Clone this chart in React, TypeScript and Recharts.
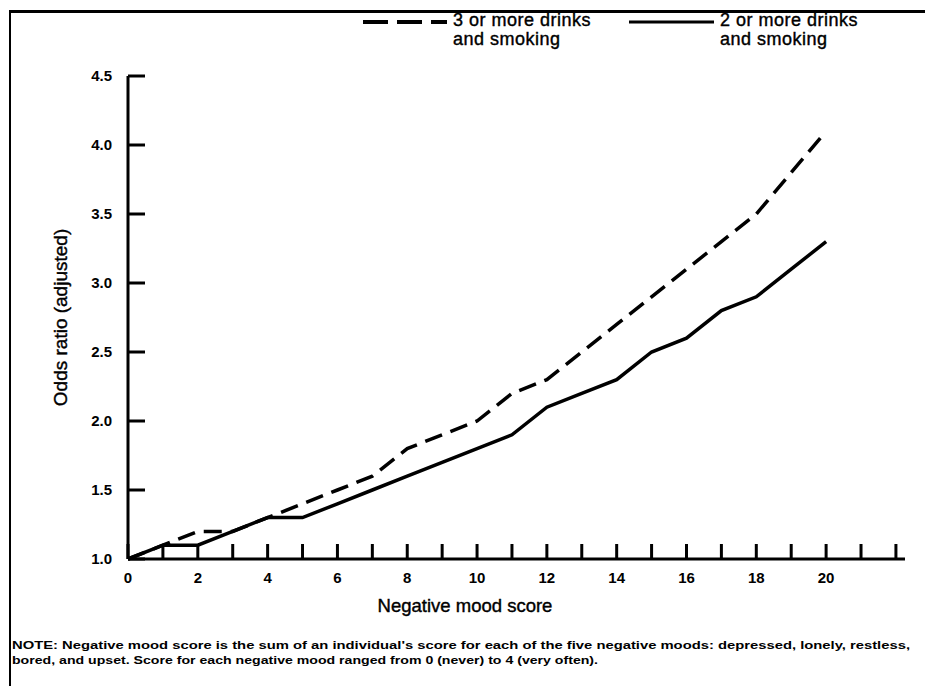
import React from 'react';
import { LineChart, Line, XAxis, YAxis, Label } from 'recharts';

// negative mood score (x) and adjusted odds ratios
const moodScore = [0, 1, 2, 3, 4, 5, 6, 7, 8, 9, 10, 11, 12, 13, 14, 15, 16, 17, 18, 19, 20];
const threeOrMoreDrinks = [1.0, 1.1, 1.2, 1.2, 1.3, 1.4, 1.5, 1.6, 1.8, 1.9, 2.0, 2.2, 2.3, 2.5, 2.7, 2.9, 3.1, 3.3, 3.5, 3.8, 4.1];
const twoOrMoreDrinks = [1.0, 1.1, 1.1, 1.2, 1.3, 1.3, 1.4, 1.5, 1.6, 1.7, 1.8, 1.9, 2.1, 2.2, 2.3, 2.5, 2.6, 2.8, 2.9, 3.1, 3.3];

const xTicks = [0, 1, 2, 3, 4, 5, 6, 7, 8, 9, 10, 11, 12, 13, 14, 15, 16, 17, 18, 19, 20, 21, 22];
const yTicks = [1.0, 1.5, 2.0, 2.5, 3.0, 3.5, 4.0, 4.5];

const seriesNames = ['3 or more drinks', '2 or more drinks'];

const data = moodScore.map((m, i) => ({
  mood: m,
  three: threeOrMoreDrinks[i],
  two: twoOrMoreDrinks[i],
}));

const FONT = '"Liberation Sans", Arial, Helvetica, sans-serif';
const DASH = '18 9';

// ticks point inward, labels only on even scores up to 20
const XTick = (props: any) => {
  const { x, y, payload } = props;
  const v = payload.value;
  return (
    <g>
      <line x1={x} y1={y} x2={x} y2={y - 15} stroke="#000" strokeWidth={3} />
      {v % 2 === 0 && v <= 20 && (
        <text x={x} y={y + 24} textAnchor="middle" fontFamily={FONT} fontWeight="bold" fontSize={15} fill="#000">
          {v}
        </text>
      )}
    </g>
  );
};

const YTick = (props: any) => {
  const { x, y, payload } = props;
  return (
    <g>
      <line x1={x} y1={y} x2={x + 17} y2={y} stroke="#000" strokeWidth={3} />
      <text x={x - 16} y={y + 5} textAnchor="end" fontFamily={FONT} fontWeight="bold" fontSize={15} fill="#000">
        {Number(payload.value).toFixed(1)}
      </text>
    </g>
  );
};

const legendText: React.CSSProperties = {
  marginLeft: 6,
  letterSpacing: 0.5,
  WebkitTextStroke: '0.4px #000',
};

const ChartLegend = () => (
  <div
    style={{
      position: 'absolute',
      top: 11,
      left: 363,
      display: 'flex',
      fontFamily: FONT,
      fontSize: 18,
      lineHeight: '19px',
      color: '#000',
    }}
  >
    <div style={{ display: 'flex', alignItems: 'flex-start' }}>
      <svg width={84} height={12} style={{ marginTop: 5 }}>
        <line x1={0} y1={6} x2={84} y2={6} stroke="#000" strokeWidth={4} strokeDasharray="25 9" />
      </svg>
      <div style={legendText}>
        {seriesNames[0]}
        <br />
        and smoking
      </div>
    </div>
    <div style={{ display: 'flex', alignItems: 'flex-start', marginLeft: 38 }}>
      <svg width={85} height={12} style={{ marginTop: 5 }}>
        <line x1={0} y1={6} x2={85} y2={6} stroke="#000" strokeWidth={3} />
      </svg>
      <div style={legendText}>
        {seriesNames[1]}
        <br />
        and smoking
      </div>
    </div>
  </div>
);

export default function App() {
  return (
    <div style={{ position: 'relative', width: 925, height: 686, background: '#fff', overflow: 'hidden' }}>
      <style>{'body{margin:0;}'}</style>
      {/* frame */}
      <div
        style={{
          position: 'absolute',
          left: 9,
          top: 10,
          width: 930,
          height: 700,
          borderTop: '3px solid #000',
          borderLeft: '2px solid #000',
        }}
      />
      <LineChart width={925} height={686} data={data} margin={{ top: 76, right: 20, bottom: 67, left: 0 }}>
        <XAxis
          dataKey="mood"
          type="number"
          domain={[0, 22.26]}
          ticks={xTicks}
          interval={0}
          tickSize={0}
          tickMargin={0}
          tickLine={false}
          tick={<XTick />}
          axisLine={{ stroke: '#000', strokeWidth: 3 }}
          height={60}
        >
          <Label
            content={(p: any) => (
              <text
                x={p.viewBox.x + 337}
                y={p.viewBox.y + 53}
                textAnchor="middle"
                fontFamily={FONT}
                fontSize={18.5}
                fill="#000"
                stroke="#000"
                strokeWidth={0.4}
              >
                Negative mood score
              </text>
            )}
          />
        </XAxis>
        <YAxis
          type="number"
          domain={[1, 4.5]}
          ticks={yTicks}
          interval={0}
          tickSize={0}
          tickMargin={0}
          tickLine={false}
          tick={<YTick />}
          axisLine={{ stroke: '#000', strokeWidth: 3 }}
          width={128}
        >
          <Label
            value="Odds ratio (adjusted)"
            angle={-90}
            position="insideLeft"
            offset={60}
            style={{ fontFamily: FONT, fontSize: 19, fill: '#000', stroke: '#000', strokeWidth: 0.4, textAnchor: 'middle' }}
          />
        </YAxis>
        <Line
          dataKey="three"
          name={seriesNames[0]}
          stroke="#000"
          strokeWidth={3.5}
          strokeDasharray={DASH}
          dot={false}
          isAnimationActive={false}
        />
        <Line
          dataKey="two"
          name={seriesNames[1]}
          stroke="#000"
          strokeWidth={3.5}
          dot={false}
          isAnimationActive={false}
        />
      </LineChart>
      <ChartLegend />
      <svg style={{ position: 'absolute', left: 0, top: 0 }} width={925} height={686}>
        <text x={12} y={649} fontFamily={FONT} fontSize={11.5} fontWeight="bold" fill="#000" textLength={898} lengthAdjust="spacingAndGlyphs">
          NOTE: Negative mood score is the sum of an individual's score for each of the five negative moods: depressed, lonely, restless,
        </text>
        <text x={12} y={664} fontFamily={FONT} fontSize={11.5} fontWeight="bold" fill="#000" textLength={586} lengthAdjust="spacingAndGlyphs">
          bored, and upset. Score for each negative mood ranged from 0 (never) to 4 (very often).
        </text>
      </svg>
    </div>
  );
}
